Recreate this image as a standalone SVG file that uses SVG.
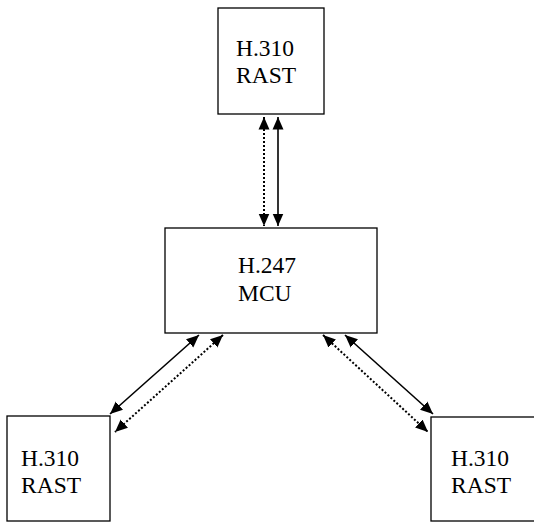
<svg xmlns="http://www.w3.org/2000/svg" width="534" height="524" viewBox="0 0 534 524">
<style>
.box{fill:#fff;stroke:#000;stroke-width:1.3}
.t{font-family:"Liberation Serif","Times New Roman",serif;font-size:23.5px;fill:#000}
.c{stroke:#000;stroke-width:1.6;fill:none;marker-start:url(#ah);marker-end:url(#ah)}
.d{stroke-dasharray:2 2;stroke-width:2}
</style>
<defs>
<marker id="ah" markerUnits="userSpaceOnUse" markerWidth="14" markerHeight="13" refX="12.5" refY="6" orient="auto-start-reverse">
<path d="M0,0.5 L12.5,6 L0,11.5 z" fill="#000"/>
</marker>
</defs>
<rect width="534" height="524" fill="#fff"/>
<g id="connectors">
<line class="c d" x1="264" y1="117" x2="264" y2="226"/>
<line class="c" x1="278" y1="117" x2="278" y2="226"/>
<line class="c" x1="199" y1="335" x2="110" y2="414"/>
<line class="c d" x1="223" y1="335" x2="115" y2="432"/>
<line class="c" x1="345" y1="335" x2="433" y2="414"/>
<line class="c d" x1="323" y1="335" x2="428" y2="432"/>
</g>
<g id="rast-top">
<rect class="box" x="218" y="8" width="106" height="106"/>
<text class="t" x="236" y="56">H.310</text>
<text class="t" x="236" y="83">RAST</text>
</g>
<g id="mcu">
<rect class="box" x="165" y="228" width="212" height="105"/>
<text class="t" x="238" y="273">H.247</text>
<text class="t" x="238" y="301">MCU</text>
</g>
<g id="rast-left">
<rect class="box" x="7" y="416" width="103" height="105"/>
<text class="t" x="21" y="466">H.310</text>
<text class="t" x="21" y="493">RAST</text>
</g>
<g id="rast-right">
<rect class="box" x="431" y="417" width="110" height="104"/>
<text class="t" x="451" y="466">H.310</text>
<text class="t" x="451" y="493">RAST</text>
</g>
</svg>
